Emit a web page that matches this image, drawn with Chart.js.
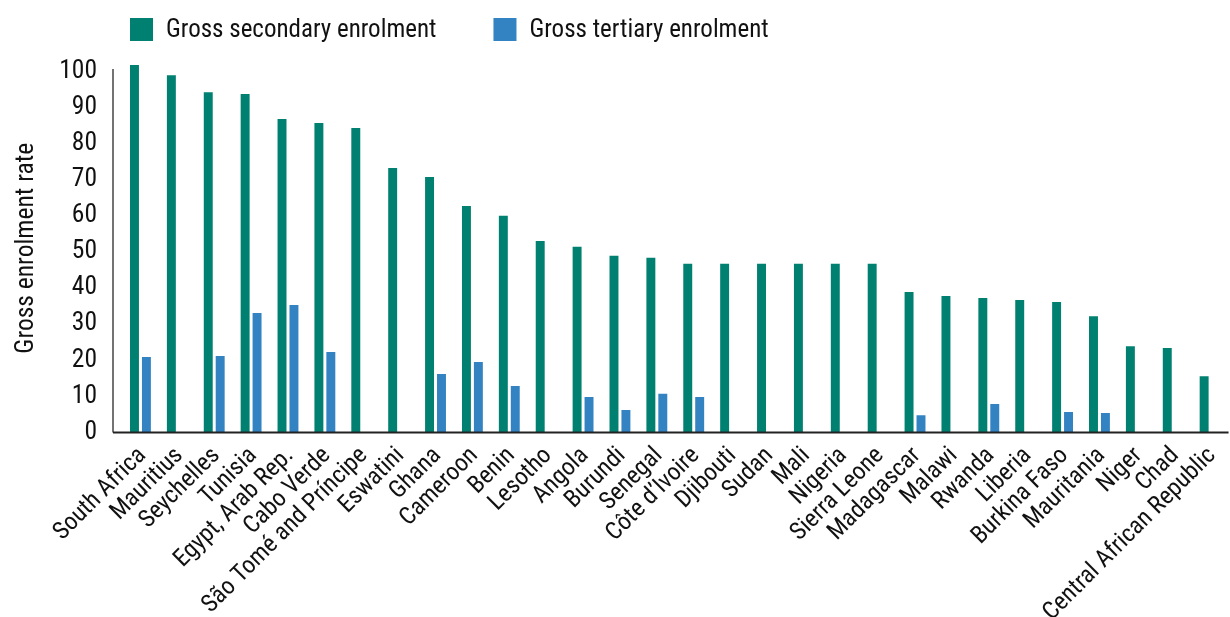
<!DOCTYPE html>
<html>
<head>
<meta charset="utf-8">
<script src="https://cdn.jsdelivr.net/npm/chart.js@4.4.0/dist/chart.umd.min.js"></script>
<style>
    html, body { margin: 0; padding: 0; background: #fff; overflow: hidden; }
    #wrap { position: relative; width: 1240px; height: 617px; }
</style>
</head>
<body>
<div id="wrap"><canvas id="enrolChart"></canvas></div>
<script>
// Chart data
const countries = [
    'South Africa', 'Mauritius', 'Seychelles', 'Tunisia', 'Egypt, Arab Rep.', 'Cabo Verde',
    'São Tomé and Príncipe', 'Eswatini', 'Ghana', 'Cameroon', 'Benin', 'Lesotho', 'Angola',
    'Burundi', 'Senegal', 'Côte d’Ivoire', 'Djibouti', 'Sudan', 'Mali', 'Nigeria',
    'Sierra Leone', 'Madagascar', 'Malawi', 'Rwanda', 'Liberia', 'Burkina Faso',
    'Mauritania', 'Niger', 'Chad', 'Central African Republic'
];
const secondaryRates = [
    101.7, 98.9, 94.2, 93.7, 86.8, 85.7, 84.3, 73.2, 70.7, 62.7, 60.0, 53.0, 51.4,
    48.9, 48.4, 46.7, 46.7, 46.7, 46.7, 46.7, 46.7, 38.9, 37.8, 37.2, 36.7, 36.1,
    32.2, 23.9, 23.4, 15.6
];
const tertiaryRates = [
    20.9, null, 21.2, 33.1, 35.3, 22.3, null, null, 16.2, 19.5, 12.9, null, 9.8,
    6.2, 10.7, 9.8, null, null, null, null, null, 4.8, null, 7.9, null, 5.7,
    5.4, null, null, null
];
const yTickValues = [0, 10, 20, 30, 40, 50, 60, 70, 80, 90, 100];

const FONT = "'Roboto Condensed', 'Liberation Sans Narrow', 'DejaVu Sans Condensed', sans-serif";
const GREEN = '#008070';
const BLUE = '#3383c3';

// Legend drawn across the top, left-aligned with the first bar
const topLegend = {
    id: 'topLegend',
    afterDraw(chart) {
        const ctx = chart.ctx;
        ctx.save();
        ctx.font = '25px ' + FONT;
        ctx.textBaseline = 'middle';
        let x = 130;
        chart.data.datasets.forEach(ds => {
            ctx.fillStyle = ds.backgroundColor;
            ctx.fillRect(x, 18, 23, 23);
            ctx.fillStyle = '#111';
            ctx.fillText(ds.label, x + 36, 31);
            x += 36 + ctx.measureText(ds.label).width + 57;
        });
        ctx.restore();
    }
};

// L-shaped axis lines, y line sits a little left of the plot area
const axisLines = {
    id: 'axisLines',
    afterDatasetsDraw(chart) {
        const ctx = chart.ctx;
        const area = chart.chartArea;
        const zeroY = chart.scales.y.getPixelForValue(0);
        const axisX = area.left - 9;
        ctx.save();
        ctx.strokeStyle = '#444';
        ctx.lineWidth = 1.5;
        ctx.beginPath();
        ctx.moveTo(axisX, area.top + 5);
        ctx.lineTo(axisX, zeroY);
        ctx.stroke();
        ctx.strokeStyle = '#222';
        ctx.lineWidth = 2;
        ctx.beginPath();
        ctx.moveTo(axisX, zeroY);
        ctx.lineTo(area.right, zeroY);
        ctx.stroke();
        ctx.restore();
    }
};

const ctx = document.getElementById('enrolChart').getContext('2d');
new Chart(ctx, {
    type: 'bar',
    data: {
        labels: countries,
        datasets: [{
            label: 'Gross secondary enrolment',
            data: secondaryRates,
            backgroundColor: GREEN,
            barPercentage: 0.75,
            categoryPercentage: 0.647
        }, {
            label: 'Gross tertiary enrolment',
            data: tertiaryRates,
            backgroundColor: BLUE,
            barPercentage: 0.75,
            categoryPercentage: 0.647
        }]
    },
    options: {
        responsive: true,
        maintainAspectRatio: false,
        animation: false,
        layout: {
            padding: { top: 64, right: 6, left: 0, bottom: 0 }
        },
        plugins: {
            legend: { display: false },
            tooltip: { enabled: false }
        },
        scales: {
            x: {
                grid: { display: false, drawTicks: false },
                border: { display: false },
                ticks: {
                    autoSkip: false,
                    minRotation: 45,
                    maxRotation: 45,
                    padding: 9,
                    labelOffset: 2,
                    color: '#111',
                    font: { family: FONT, size: 24.5 }
                },
                afterFit(scale) {
                    scale.height = 184.5;
                }
            },
            y: {
                min: 0,
                max: 102,
                grid: { display: false, drawTicks: false },
                border: { display: false },
                ticks: {
                    padding: 25,
                    color: '#111',
                    font: { family: FONT, size: 25.5 }
                },
                afterBuildTicks(scale) {
                    scale.ticks = yTickValues.map(v => ({ value: v }));
                },
                afterFit(scale) {
                    scale.width = 122;
                },
                title: {
                    display: true,
                    text: 'Gross enrolment rate',
                    color: '#111',
                    padding: { top: 11, bottom: 0 },
                    font: { family: FONT, size: 25.5 }
                }
            }
        }
    },
    plugins: [topLegend, axisLines]
});
</script>
</body>
</html>
